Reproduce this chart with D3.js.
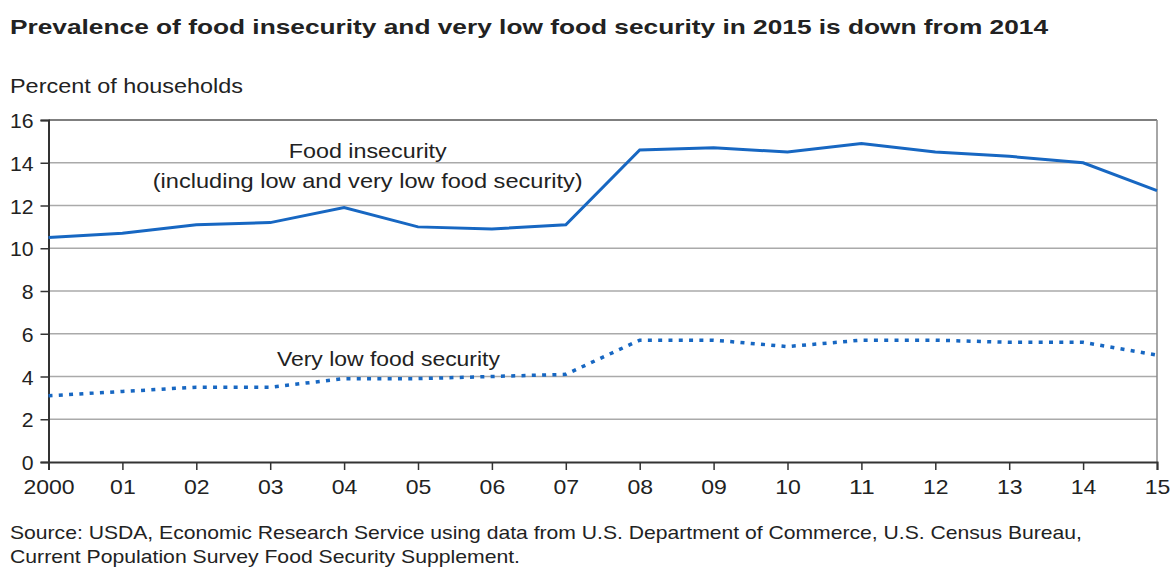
<!DOCTYPE html>
<html>
<head>
<meta charset="utf-8">
<script src="https://cdn.jsdelivr.net/npm/d3@7"></script>
<style>
  body { margin: 0; background: #fff; }
  text { font-family: "Liberation Sans", Arial, sans-serif; fill: #222; }
</style>
</head>
<body>
<script>
const years = d3.range(2000, 2016)
const yearLabels = ["2000", "01", "02", "03", "04", "05", "06", "07", "08", "09", "10", "11", "12", "13", "14", "15"]
const foodInsecurity = [10.5, 10.7, 11.1, 11.2, 11.9, 11.0, 10.9, 11.1, 14.6, 14.7, 14.5, 14.9, 14.5, 14.3, 14.0, 12.7]
const veryLow = [3.1, 3.3, 3.5, 3.5, 3.9, 3.9, 4.0, 4.1, 5.7, 5.7, 5.4, 5.7, 5.7, 5.6, 5.6, 5.0]
const yTicks = [0, 2, 4, 6, 8, 10, 12, 14, 16]

const W = 1174, H = 569
const plotLeft = 48.5, plotRight = 1157, plotTop = 120, plotBottom = 462

const svg = d3.select("body").append("svg")
  .attr("width", W)
  .attr("height", H)

const x = d3.scaleLinear().domain([2000, 2015]).range([plotLeft, plotRight])
const y = d3.scaleLinear().domain([0, 16]).range([plotBottom, plotTop])

// text helper, stretched to the width seen in the original
function label(tx, ty, str, size, width, opts = {}) {
  const t = svg.append("text")
    .attr("x", tx).attr("y", ty)
    .attr("font-size", size)
    .attr("textLength", width)
    .attr("lengthAdjust", "spacingAndGlyphs")
    .text(str)
  if (opts.bold) t.attr("font-weight", "bold")
  if (opts.anchor) t.attr("text-anchor", opts.anchor)
  return t
}

// title
label(10, 34, "Prevalence of food insecurity and very low food security in 2015 is down from 2014", 21, 1038, { bold: true })
label(10, 93, "Percent of households", 21, 233)

// grid
svg.append("g").selectAll("line")
  .data(yTicks.filter(d => d > 0))
  .enter().append("line")
  .attr("x1", plotLeft).attr("x2", plotRight)
  .attr("y1", d => y(d)).attr("y2", d => y(d))
  .attr("stroke", d => d === 16 ? "#555" : "#aaa")
  .attr("stroke-width", 1.5)

// right border
svg.append("line")
  .attr("x1", plotRight).attr("x2", plotRight)
  .attr("y1", plotTop).attr("y2", plotBottom)
  .attr("stroke", "#888").attr("stroke-width", 1.5)

// y axis
const yAxis = svg.append("g")
  .attr("transform", `translate(${plotLeft},0)`)
  .call(d3.axisLeft(y).tickValues(yTicks).tickSize(8).tickPadding(7).tickFormat(d3.format("d")))
yAxis.select(".domain").attr("stroke", "#333").attr("stroke-width", 2)
yAxis.selectAll(".tick line").attr("stroke", "#333").attr("stroke-width", 1.5)
yAxis.selectAll(".tick text").attr("font-size", 21).attr("dy", "0.36em")
  .attr("textLength", d => String(d).length * 11.8)
  .attr("lengthAdjust", "spacingAndGlyphs")
  .style("font-family", "Liberation Sans, Arial, sans-serif").attr("fill", "#222")

// x axis
const xAxis = svg.append("g")
  .attr("transform", `translate(0,${plotBottom})`)
  .call(d3.axisBottom(x).tickValues(years).tickSize(8).tickPadding(9)
    .tickFormat((d, i) => yearLabels[i]))
xAxis.select(".domain").attr("stroke", "#333").attr("stroke-width", 2)
xAxis.selectAll(".tick line").attr("stroke", "#333").attr("stroke-width", 1.5)
xAxis.selectAll(".tick text").attr("font-size", 21)
  .attr("textLength", (d, i) => yearLabels[i].length * 12.8)
  .attr("lengthAdjust", "spacingAndGlyphs")
  .style("font-family", "Liberation Sans, Arial, sans-serif").attr("fill", "#222")

const line = d3.line()
  .x((d, i) => x(years[i]))
  .y(d => y(d))

svg.append("path")
  .datum(foodInsecurity)
  .attr("d", line)
  .attr("fill", "none")
  .attr("stroke", "#1767c2")
  .attr("stroke-width", 3)

svg.append("path")
  .datum(veryLow)
  .attr("d", line)
  .attr("fill", "none")
  .attr("stroke", "#1767c2")
  .attr("stroke-width", 3.5)
  .attr("stroke-dasharray", "4,6.3")

// labels
label(x(2004.32), 158, "Food insecurity", 21, 158, { anchor: "middle" })
label(x(2004.32), 188, "(including low and very low food security)", 21, 430, { anchor: "middle" })
label(x(2004.6), 366, "Very low food security", 21, 223, { anchor: "middle" })

// source
label(10, 539, "Source: USDA, Economic Research Service using data from U.S. Department of Commerce, U.S. Census Bureau,", 19, 1072)
label(10, 563, "Current Population Survey Food Security Supplement.", 19, 510)
</script>
</body>
</html>
